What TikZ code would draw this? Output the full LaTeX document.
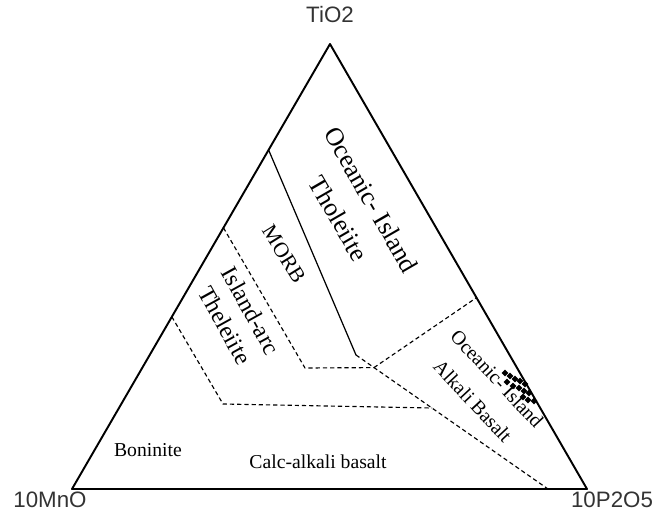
\documentclass[tikz,border=0pt]{standalone}
\usepackage{fontspec}
\setmainfont{Liberation Serif}
\newfontfamily\axisfont{Liberation Sans}
\usetikzlibrary{calc}
\begin{document}
\begin{tikzpicture}[x=0.02cm,y=-0.02cm,line cap=round,line join=round,
  edge/.style={line width=1.1pt},
  bound/.style={line width=0.7pt},
  dashbound/.style={line width=0.65pt,dash pattern=on 2.4pt off 1.7pt,line cap=butt},
  apex/.style={font=\axisfont\fontsize{12.7}{14}\selectfont,text=black!80,inner sep=0pt},
  zone/.style={align=center,inner sep=0pt}]
  \useasboundingbox (0,0) rectangle (657,514);
  \coordinate (T) at (330,44);
  \coordinate (L) at (72,489);
  \coordinate (R) at (587,489);
  \coordinate (S) at (356,355);
  \coordinate (B) at (548,489);
  \coordinate (J) at (374,367.6);
  \coordinate (K) at ($(T)!0.57!(R)$);
  \coordinate (M1) at ($(T)!0.238!(L)$);
  \coordinate (M2) at ($(T)!0.413!(L)$);
  \coordinate (M3) at ($(T)!0.613!(L)$);
  \coordinate (C1) at (305,368);
  \coordinate (C2) at (223,404);
  \coordinate (C3) at (432,408);
  \draw[edge] (L) -- (R) -- (T) -- cycle;
  \draw[bound] (M1) -- (S);
  \draw[dashbound] (M2) -- (C1) -- (J);
  \draw[dashbound] (M3) -- (C2) -- (C3);
  \draw[dashbound] (S) -- (B);
  \draw[dashbound] (J) -- (K);
  \foreach \px/\py in {505/373,510/376,515/379,520/381,525/384,
      507/382,513/386,519/388,524/391,529/393,523/397,528/400,534/401}
    \fill (\px,\py) +(-3.3,0) -- +(0,-3.3) -- +(3.3,0) -- +(0,3.3) -- cycle;
  \node[apex] (tio) at (330,15) {TiO2};
  \node[apex] (mno) at (50,500) {10MnO};
  \node[apex] (pto) at (612,500) {10P2O5};
  \node[zone,rotate=-60,font=\fontsize{14.7}{21.5}\selectfont] (oit) at (355,209) {Oceanic- Island\\Tholeiite};
  \node[zone,rotate=-58,font=\fontsize{12.2}{14}\selectfont] (morb) at (284,254) {MORB};
  \node[zone,rotate=-61,font=\fontsize{13.6}{17}\selectfont] (iat) at (238,318) {Island-arc\\Theleiite};
  \node[zone,rotate=-47,font=\fontsize{11.3}{18.8}\selectfont] (oia) at (485,390) {Oceanic- Island\\Alkali Basalt};
  \node[zone,font=\fontsize{11.2}{13}\selectfont] (bon) at (148,450) {Boninite};
  \node[zone,font=\fontsize{11.2}{13}\selectfont] (cab) at (318,462) {Calc-alkali basalt};
\end{tikzpicture}
\end{document}
